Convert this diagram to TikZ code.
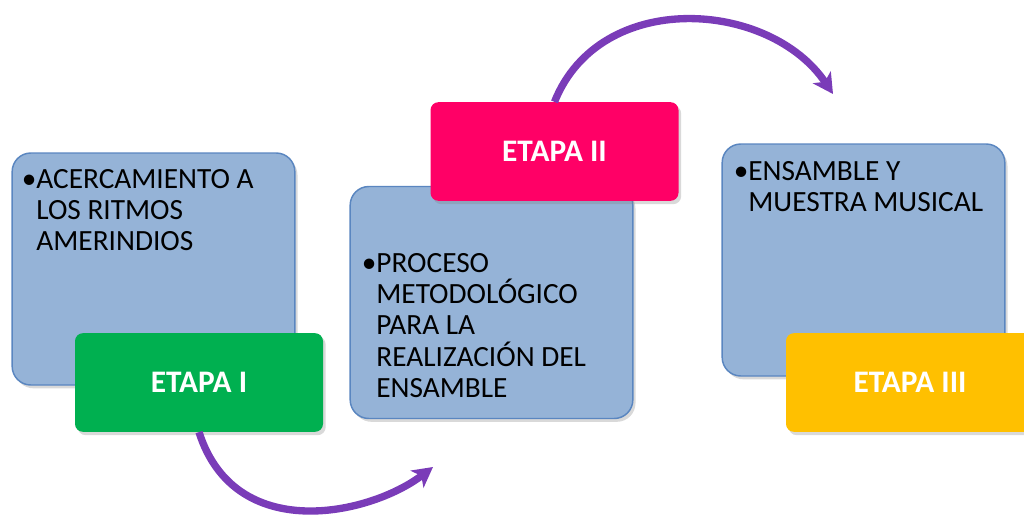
\documentclass[tikz,border=0pt]{standalone}
\usepackage{fontspec}
\setmainfont{Carlito}
\usetikzlibrary{shadows,arrows.meta}
\definecolor{boxblue}{HTML}{95B3D7}
\definecolor{boxedge}{HTML}{5A86C0}
\definecolor{etgreen}{HTML}{00B050}
\definecolor{etpink}{HTML}{FF0066}
\definecolor{etyellow}{HTML}{FFC000}
\definecolor{arrowpurple}{HTML}{7A3CB8}
\begin{document}
\begin{tikzpicture}[x=0.75pt,y=-0.75pt,
  infobox/.style={draw=boxedge, line width=1.1pt, fill=boxblue, rounded corners=14pt,
    minimum width=212pt, minimum height=174pt, inner sep=0pt,
    drop shadow={opacity=0.3,shadow xshift=2pt,shadow yshift=-2.5pt}},
  stagebox/.style={rounded corners=6pt, minimum width=186pt, minimum height=74pt,
    inner sep=0pt, text=white, font=\bfseries\fontsize{23.5}{27}\selectfont,
    drop shadow={opacity=0.3,shadow xshift=2pt,shadow yshift=-2.5pt}},
  bodytext/.style={anchor=base west, inner sep=0pt, font=\fontsize{22}{23.6}\selectfont},
  flow/.style={draw=arrowpurple, line width=5.5pt, -{Stealth[length=15pt, width=16pt, inset=4pt]}}
]
\useasboundingbox (0,0) rectangle (1024,525);
% stage 1
\node[infobox] (b1) at (153.5,269) {};
\node[bodytext] (x1) at (21.5,188) {\parbox[t]{220pt}{\raggedright\textbullet ACERCAMIENTO A\\\hphantom{\textbullet}LOS RITMOS\\\hphantom{\textbullet}AMERINDIOS}};
\node[stagebox, fill=etgreen] (e1) at (199,382.5) {ETAPA I};
% stage 2
\node[infobox] (b2) at (491.5,302.5) {};
\node[bodytext] (x2) at (361.5,272) {\parbox[t]{220pt}{\raggedright\textbullet PROCESO\\\hphantom{\textbullet}METODOLÓGICO\\\hphantom{\textbullet}PARA LA\\\hphantom{\textbullet}REALIZACIÓN DEL\\\hphantom{\textbullet}ENSAMBLE}};
\node[stagebox, fill=etpink] (e2) at (554.5,151.5) {ETAPA II};
% stage 3
\node[infobox] (b3) at (863.5,260) {};
\node[bodytext] (x3) at (733.5,180) {\parbox[t]{220pt}{\raggedright\textbullet ENSAMBLE Y\\\hphantom{\textbullet}MUESTRA MUSICAL}};
\node[stagebox, fill=etyellow] (e3) at (910,382.5) {ETAPA III};
% connectors
\coordinate (t1) at (433,467);
\coordinate (t2) at (833,94);
\draw[flow] (e1.south) .. controls (235,545) and (370,515) .. (t1);
\draw[flow] (e2.north) .. controls (600,-12) and (770,0) .. (t2);
\end{tikzpicture}
\end{document}
